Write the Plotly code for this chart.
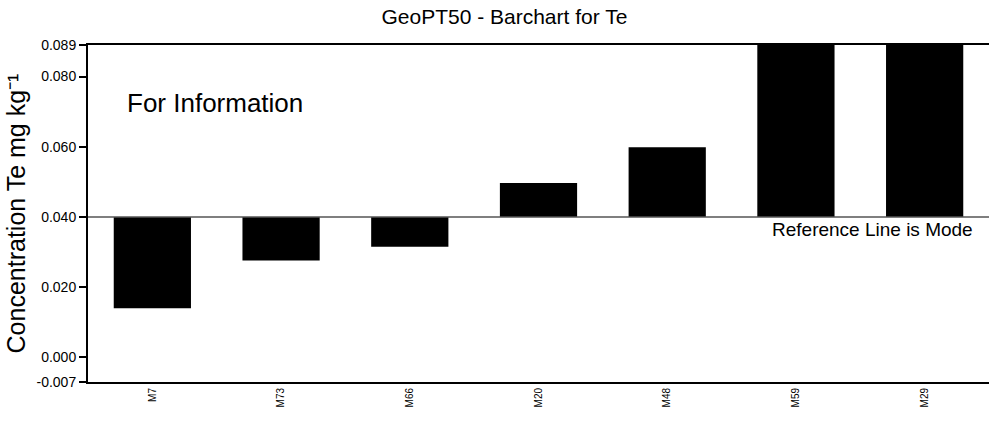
import plotly.graph_objects as go

categories = ["M7", "M73", "M66", "M20", "M48", "M59", "M29"]
values = [0.0140, 0.0276, 0.0315, 0.0497, 0.0599, 0.100, 0.100]
reference_mode = 0.040
tick_vals = [-0.007, 0.000, 0.020, 0.040, 0.060, 0.080, 0.089]
tick_text = ["-0.007", "0.000", "0.020", "0.040", "0.060", "0.080", "0.089"]
y_range = [-0.007, 0.089]

font_family = "Liberation Sans, Arial, sans-serif"

fig = go.Figure()
fig.add_trace(go.Bar(
    x=categories,
    y=[v - reference_mode for v in values],
    base=reference_mode,
    width=0.6,
    marker=dict(color="black", line=dict(width=0)),
    showlegend=False,
    cliponaxis=True,
))

fig.add_shape(type="line", xref="paper", yref="y", x0=0, x1=1,
              y0=reference_mode, y1=reference_mode,
              line=dict(color="#555555", width=1.5), layer="above")

fig.add_annotation(text="For Information", xref="paper", yref="paper",
                   x=0.041, y=0.828, xanchor="left", yanchor="middle",
                   showarrow=False, font=dict(size=26, color="black", family=font_family))
fig.add_annotation(text="Reference Line is Mode", xref="paper", yref="paper",
                   x=0.985, y=0.454, xanchor="right", yanchor="middle",
                   showarrow=False, font=dict(size=19, color="black", family=font_family))

fig.update_layout(
    width=989, height=422,
    margin=dict(l=88, r=0, t=45, b=40),
    paper_bgcolor="white", plot_bgcolor="white",
    font=dict(family=font_family, color="black"),
    title=dict(text="GeoPT50 - Barchart for Te", xref="container", x=0.51, xanchor="center",
               yref="container", y=0.96, yanchor="middle", font=dict(size=21, color="black")),
    bargap=0.4,
    xaxis=dict(
        range=[-0.5, 6.5], showline=True, linecolor="black", linewidth=2,
        mirror=True, showgrid=False, zeroline=False, ticks="",
        tickangle=-90, tickfont=dict(size=10, color="black"),
        fixedrange=True,
    ),
    yaxis=dict(
        range=y_range, tickvals=tick_vals, ticktext=tick_text,
        showline=True, linecolor="black", linewidth=2, mirror=False,
        ticks="outside", ticklen=7, tickwidth=1.5, tickcolor="black",
        showgrid=False, zeroline=False, tickfont=dict(size=14, color="black"),
        title=dict(text="Concentration Te mg kg⁻¹", font=dict(size=25, color="black"), standoff=4),
        fixedrange=True,
    ),
)

fig.write_html("out.html", config={"displayModeBar": False},
               post_script="document.body.style.margin='0px';")
